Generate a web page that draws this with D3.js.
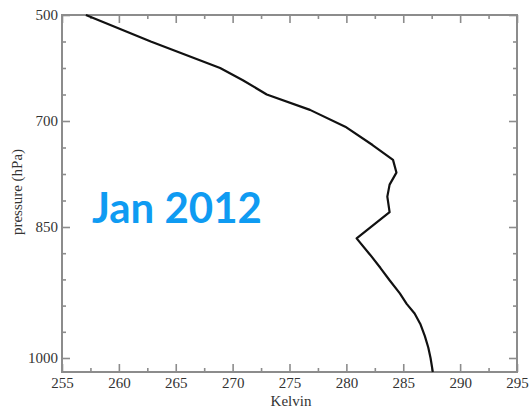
<!DOCTYPE html>
<html>
<head>
<meta charset="utf-8">
<script src="https://cdn.jsdelivr.net/npm/d3@7"></script>
<style>
  body { margin: 0; background: #fff; }
  svg { display: block; }
  .axis path { display: none; }
  .axis line { stroke: #8c8c8c; stroke-width: 1.6; }
</style>
</head>
<body>
<div id="vis"></div>
<script>

// sounding profile
var pressure = [500, 550, 600, 623, 650, 679, 708, 734, 755, 773, 790, 807, 829, 863, 882, 897, 911, 926, 938, 949, 961, 975, 988, 1000, 1016];
var temperature = [257.1, 262.8, 268.9, 270.9, 273.0, 276.8, 279.9, 282.3, 284.1, 284.4, 283.8, 283.6, 283.8, 280.9, 282.1, 283.0, 283.8, 284.7, 285.3, 286.0, 286.5, 286.9, 287.2, 287.4, 287.6];

var xMajor = [255, 260, 265, 270, 275, 280, 285, 290, 295];
var xMinor = [257.5, 262.5, 267.5, 272.5, 277.5, 282.5, 287.5, 292.5];
var yMajor = [500, 700, 850, 1000];
var yMinor = [550, 600, 650, 737.5, 775, 812.5, 880, 910, 940, 970];

var width = 531;
var height = 411;
var plot = { left: 62, right: 517, top: 15, bottom: 372 };
var serif = '"Liberation Serif", "Times New Roman", serif';

var svg = d3.select('#vis')
  .append('svg')
  .attr('width', width)
  .attr('height', height);

var x = d3.scaleLinear()
  .domain([255, 295])
  .range([plot.left, plot.right]);

// the pressure axis is not linear: labelled levels sit on evenly spaced ticks
var y = d3.scaleLinear()
  .domain([500, 700, 850, 1000, 1016])
  .range([plot.top, 121, 227, 358, plot.bottom]);

function addAxis(axis, tx, ty) {
  var g = svg.append('g')
    .attr('class', 'axis')
    .attr('transform', 'translate(' + tx + ',' + ty + ')')
    .call(axis);
  g.selectAll('text')
    .style('font-family', serif)
    .style('font-size', '15px')
    .style('fill', '#333');
}

// bottom + top
addAxis(d3.axisBottom(x).tickValues(xMajor).tickSizeInner(-8).tickSizeOuter(0).tickPadding(5).tickFormat(d3.format('d')), 0, plot.bottom);
addAxis(d3.axisBottom(x).tickValues(xMinor).tickSizeInner(-4).tickSizeOuter(0).tickFormat(''), 0, plot.bottom);
addAxis(d3.axisTop(x).tickValues(xMajor).tickSizeInner(-8).tickSizeOuter(0).tickFormat(''), 0, plot.top);
addAxis(d3.axisTop(x).tickValues(xMinor).tickSizeInner(-4).tickSizeOuter(0).tickFormat(''), 0, plot.top);

// left + right
addAxis(d3.axisLeft(y).tickValues(yMajor).tickSizeInner(-8).tickSizeOuter(0).tickPadding(4).tickFormat(d3.format('d')), plot.left, 0);
addAxis(d3.axisLeft(y).tickValues(yMinor).tickSizeInner(-4).tickSizeOuter(0).tickFormat(''), plot.left, 0);
addAxis(d3.axisRight(y).tickValues(yMajor).tickSizeInner(-8).tickSizeOuter(0).tickFormat(''), plot.right, 0);
addAxis(d3.axisRight(y).tickValues(yMinor).tickSizeInner(-4).tickSizeOuter(0).tickFormat(''), plot.right, 0);

// frame
svg.append('rect')
  .attr('x', plot.left)
  .attr('y', plot.top)
  .attr('width', plot.right - plot.left)
  .attr('height', plot.bottom - plot.top)
  .attr('fill', 'none')
  .attr('stroke', '#8c8c8c')
  .attr('stroke-width', 2);

var points = pressure.map(function (p, i) { return { p: p, t: temperature[i] }; });

var line = d3.line()
  .x(function (d) { return x(d.t); })
  .y(function (d) { return y(d.p); })
  .curve(d3.curveLinear);

svg.append('path')
  .datum(points)
  .attr('d', line)
  .attr('fill', 'none')
  .attr('stroke', '#111')
  .attr('stroke-width', 2.2)
  .attr('stroke-linejoin', 'round');

// axis titles
svg.append('text')
  .attr('x', 291)
  .attr('y', 406)
  .attr('text-anchor', 'middle')
  .style('font-family', serif)
  .style('font-size', '15px')
  .style('fill', '#333')
  .text('Kelvin');

svg.append('text')
  .attr('transform', 'translate(22,192) rotate(-90)')
  .attr('text-anchor', 'middle')
  .style('font-family', serif)
  .style('font-size', '15px')
  .style('fill', '#333')
  .text('pressure (hPa)');

svg.append('text')
  .attr('x', 92)
  .attr('y', 223)
  .style('font-family', 'Lato, "Open Sans", sans-serif')
  .style('font-weight', 'bold')
  .style('font-size', '42px')
  .style('fill', '#0f9bf2')
  .text('Jan 2012');

</script>
</body>
</html>
